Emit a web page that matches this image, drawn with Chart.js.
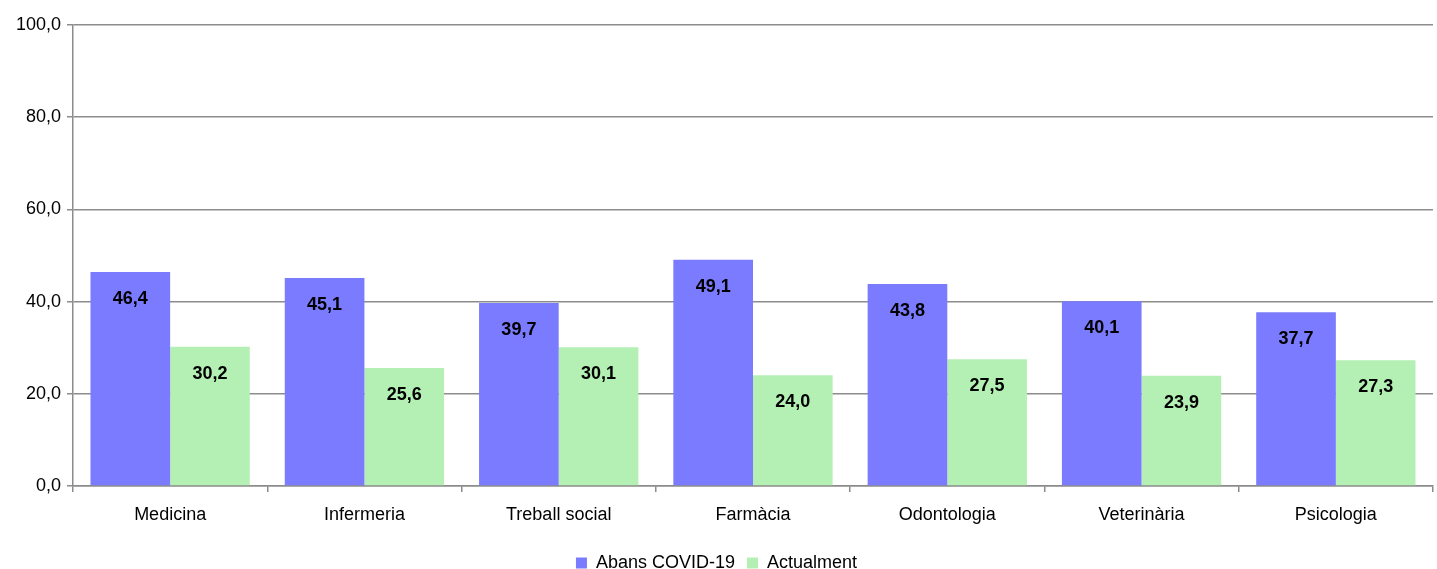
<!DOCTYPE html>
<html>
<head>
<meta charset="utf-8">
<script src="https://cdn.jsdelivr.net/npm/chart.js@4.4.1/dist/chart.umd.min.js"></script>
<style>
  html, body { margin: 0; padding: 0; background: #fff; }
  #wrap { width: 1437px; height: 569px; }
</style>
</head>
<body>
<div id="wrap"><canvas id="chart"></canvas></div>
<script>
// Chart data
const categories = ['Medicina', 'Infermeria', 'Treball social', 'Farmàcia', 'Odontologia', 'Veterinària', 'Psicologia'];
const abansCovid = [46.4, 45.1, 39.7, 49.1, 43.8, 40.1, 37.7];
const actualment = [30.2, 25.6, 30.1, 24.0, 27.5, 23.9, 27.3];
const yTicks = [0, 20, 40, 60, 80, 100];

const FONT = '"Liberation Sans Narrow", "Arial Narrow", "Liberation Sans", Arial, sans-serif';
const GRID = '#8c8c8c';

function fmt(v) {
    return v.toFixed(1).replace('.', ',');
}

// draws the value inside each bar, near its top
const valueLabels = {
    id: 'valueLabels',
    afterDatasetsDraw(chart) {
        const ctx = chart.ctx;
        ctx.save();
        ctx.font = 'bold 18px ' + FONT;
        ctx.fillStyle = '#000';
        ctx.textAlign = 'center';
        ctx.textBaseline = 'middle';
        chart.data.datasets.forEach((ds, i) => {
            chart.getDatasetMeta(i).data.forEach((bar, j) => {
                ctx.fillText(fmt(ds.data[j]), bar.x, bar.y + 27);
            });
        });
        ctx.restore();
    }
};

new Chart(document.getElementById('chart'), {
    type: 'bar',
    data: {
        labels: categories,
        datasets: [{
            label: 'Abans COVID-19',
            data: abansCovid,
            backgroundColor: '#7b7bff'
        }, {
            label: 'Actualment',
            data: actualment,
            backgroundColor: '#b4f0b4'
        }]
    },
    options: {
        responsive: true,
        maintainAspectRatio: false,
        animation: false,
        layout: { padding: { top: 25, right: 4, left: 0, bottom: -13 } },
        datasets: {
            bar: { categoryPercentage: 0.82, barPercentage: 1.0 }
        },
        scales: {
            x: {
                grid: { offset: true, drawOnChartArea: false, color: GRID, lineWidth: 1.5, tickLength: 6 },
                border: { color: GRID, width: 1.5 },
                ticks: { color: '#000', font: { family: FONT, size: 18 }, padding: 12 },
                afterFit(scale) { scale.height = 56; }
            },
            y: {
                min: 0,
                max: 100,
                afterBuildTicks(scale) { scale.ticks = yTicks.map(v => ({ value: v })); },
                grid: { color: GRID, lineWidth: 1.5, tickLength: 6 },
                border: { color: GRID, width: 1.5 },
                ticks: { color: '#000', font: { family: FONT, size: 18 }, padding: 6, callback: v => fmt(v) },
                afterFit(scale) { scale.width = 73; }
            }
        },
        plugins: {
            legend: {
                position: 'bottom',
                labels: { color: '#000', font: { family: FONT, size: 18 }, boxWidth: 11, boxHeight: 11, padding: 12 }
            },
            tooltip: { enabled: false }
        }
    },
    plugins: [valueLabels]
});
</script>
</body>
</html>
